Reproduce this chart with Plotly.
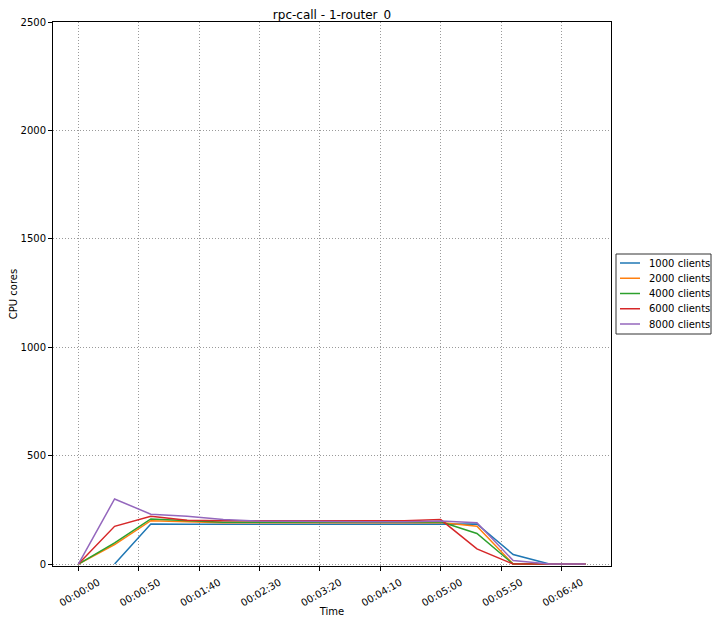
import plotly.graph_objects as go

times = [0, 30, 60, 90, 120, 150, 180, 210, 240, 270, 300, 330, 360, 390, 420]
series_names = ["1000 clients", "2000 clients", "4000 clients", "6000 clients", "8000 clients"]
clients_1000 = [None, 0, 185, 183, 183, 183, 183, 183, 183, 185, 185, 185, 44, 0, None]
clients_2000 = [0, 90, 200, 195, 190, 190, 190, 190, 190, 190, 192, 174, 0, 0, 0]
clients_4000 = [0, 98, 208, 200, 193, 193, 193, 193, 193, 193, 195, 141, 0, 0, 0]
clients_6000 = [0, 174, 220, 202, 200, 200, 200, 200, 200, 200, 205, 70, 0, 0, 0]
clients_8000 = [0, 300, 230, 220, 205, 198, 197, 195, 195, 195, 198, 190, 16, 0, 0]
tick_vals = [0, 50, 100, 150, 200, 250, 300, 350, 400]
tick_text = ["00:00:00", "00:00:50", "00:01:40", "00:02:30", "00:03:20",
             "00:04:10", "00:05:00", "00:05:50", "00:06:40"]
colors = ["#1f77b4", "#ff7f0e", "#2ca02c", "#d62728", "#9467bd"]

all_series = [clients_1000, clients_2000, clients_4000, clients_6000, clients_8000]

fig = go.Figure()
for name, vals, c in zip(series_names, all_series, colors):
    fig.add_trace(go.Scatter(x=times, y=vals, mode="lines", name=name,
                             line=dict(color=c, width=1.5), connectgaps=False,
                             showlegend=False))

axis_common = dict(showline=True, linecolor="black", linewidth=1, mirror=True,
                   ticks="outside", ticklen=4, tickcolor="black", automargin=False,
                   showgrid=True, gridcolor="#9a9a9a", griddash="1px,2px", gridwidth=1,
                   zeroline=False, tickfont=dict(size=10, color="black"))

# the page body adds an 8px margin on every side; size the figure to fit the window
W, H = 704, 609
ML, MR, MT, MB = 45, 101, 14, 51
PW, PH = W - ML - MR, H - MT - MB


def px_x(fx):
    return (fx - ML) / PW


def px_y(fy):
    return 1 - (fy - MT) / PH


# compact legend box to the right of the plot (matplotlib-like layout)
shapes = [dict(type="rect", xref="paper", yref="paper",
               x0=px_x(608), x1=px_x(703), y0=px_y(246), y1=px_y(326),
               line=dict(color="#333333", width=1), fillcolor="white", layer="above")]
annotations = []
for i, (name, c) in enumerate(zip(series_names, colors)):
    fy = 255 + i * 15.25
    shapes.append(dict(type="line", xref="paper", yref="paper",
                       x0=px_x(612), x1=px_x(632), y0=px_y(fy), y1=px_y(fy),
                       line=dict(color=c, width=1.5), layer="above"))
    annotations.append(dict(text=name, xref="paper", yref="paper", x=px_x(639),
                            y=px_y(fy), xanchor="left", yanchor="middle",
                            showarrow=False, font=dict(size=10, color="black")))

fig.update_layout(
    width=W, height=H,
    margin=dict(l=ML, r=MR, t=MT, b=MB),
    paper_bgcolor="white", plot_bgcolor="white",
    font=dict(family="DejaVu Sans", size=10, color="black"),
    title=dict(text="rpc-call - 1-router_0", font=dict(size=12), x=0.5, xref="paper",
               y=1 - 7 / H, yref="container", yanchor="middle", pad=dict(t=0, b=0),
               automargin=False),
    xaxis=dict(range=[-21, 441], tickvals=tick_vals, ticktext=tick_text, tickangle=-30,
               ticklabelshift=20, ticklabelstandoff=2,
               title=dict(text="Time", font=dict(size=10), standoff=2), **axis_common),
    yaxis=dict(range=[-9, 2500], tickvals=[0, 500, 1000, 1500, 2000, 2500],
               title=dict(text="CPU cores", font=dict(size=10), standoff=4), **axis_common),
    shapes=shapes,
    annotations=annotations,
    showlegend=False,
)

fig.write_html("out.html")
